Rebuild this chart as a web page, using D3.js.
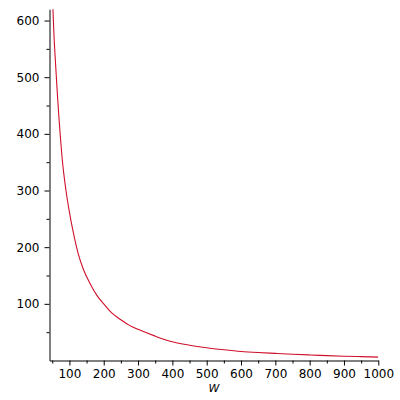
<!DOCTYPE html>
<html><head><meta charset="utf-8">
<script src="https://cdn.jsdelivr.net/npm/d3@7"></script>
<style>html,body{margin:0;padding:0;background:#fff;}svg{display:block;}</style>
</head><body>
<script>
const wValues = [50,55,60,66,70,80,90,100,110,125,140,160,180,200,225,250,275,300,350,400,450,500,550,600,650,700,750,800,850,900,950,1000];
const yValues = [650,575,520,460,425,350,300,262,230,190,162,136,115,100,83,72,62,55,43,33,27,22.5,19,16,14,12.5,11,9.8,8.6,7.6,6.8,6];
const xTicks = [100,200,300,400,500,600,700,800,900,1000];
const xMinor = [50,150,250,350,450,550,650,750,850,950];
const yTicks = [100,200,300,400,500,600];
const yMinor = [50,150,250,350,450,550];
const xLabel = "W";

const W = 400, H = 400;
const svg = d3.select("body").append("svg").attr("width", W).attr("height", H);
const x = d3.scaleLinear().domain([42, 1000]).range([49.5, 378.3]);
const y = d3.scaleLinear().domain([0, 620]).range([360.5, 9.2]);

svg.append("clipPath").attr("id","clip").append("rect")
  .attr("x", x(42)).attr("y", y(620)).attr("width", x(1000)-x(42)).attr("height", y(0)-y(620));

const data = wValues.map((w,i)=>({w, v:yValues[i]}));
const line = d3.line().x(d=>x(d.w)).y(d=>y(d.v)).curve(d3.curveMonotoneX);
svg.append("path").datum(data).attr("d", line).attr("fill","none")
  .attr("stroke","#d0102a").attr("stroke-width",1.1).attr("clip-path","url(#clip)");

const font = "DejaVu Sans, Verdana, sans-serif";
// X axis
const xAxis = svg.append("g").attr("transform", `translate(0,${y(0)})`);
xAxis.call(d3.axisBottom(x).tickValues(xTicks).tickSize(5).tickSizeOuter(0).tickPadding(4).tickFormat(d3.format("d")));
xAxis.append("g").call(d3.axisBottom(x).tickValues(xMinor).tickSize(3).tickSizeOuter(0).tickFormat(""))
  .select(".domain").remove();
xAxis.selectAll("text").attr("font-family", font).attr("font-size", 12).attr("fill","#000");
xAxis.selectAll("line,path").attr("stroke","#000");

// Y axis
const yAxis = svg.append("g").attr("transform", `translate(${x(42)},0)`);
yAxis.call(d3.axisLeft(y).tickValues(yTicks).tickSize(5).tickSizeOuter(0).tickPadding(5).tickFormat(d3.format("d")));
yAxis.append("g").call(d3.axisLeft(y).tickValues(yMinor).tickSize(3).tickSizeOuter(0).tickFormat(""))
  .select(".domain").remove();
yAxis.selectAll("text").attr("font-family", font).attr("font-size", 12).attr("fill","#000");
yAxis.selectAll("line,path").attr("stroke","#000");

svg.append("text").attr("x", 214).attr("y", 392).attr("text-anchor","middle")
  .attr("font-family", font).attr("font-style","italic").attr("font-size", 11).text(xLabel);
</script>
</body></html>
